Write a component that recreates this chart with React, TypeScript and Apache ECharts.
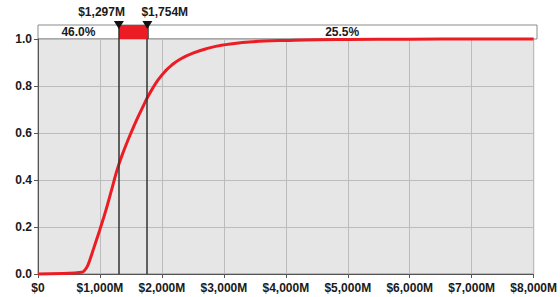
import React, { useEffect, useRef } from "react";
import * as echarts from "echarts";

// Cumulative curve (value in $M, cumulative probability)
const curveX = [0, 400, 700, 750, 800, 850, 900, 950, 1000, 1100, 1200, 1297, 1400, 1500, 1600, 1700, 1754, 1850, 1950, 2050, 2150, 2300, 2500, 2750, 3000, 3300, 3650, 4000, 4500, 5000, 6000, 7000, 8000];
const curveY = [0, 0.002, 0.007, 0.015, 0.035, 0.07, 0.11, 0.15, 0.19, 0.275, 0.37, 0.46, 0.535, 0.6, 0.66, 0.715, 0.745, 0.79, 0.83, 0.862, 0.887, 0.915, 0.94, 0.961, 0.975, 0.985, 0.991, 0.994, 0.997, 0.998, 0.9993, 0.9998, 1.0];

// Delimiters and band percentages
const delimiters = [1297, 1754];
const delimiterLabels = ["$1,297M", "$1,754M"];
const bandPercents = ["46.0%", "25.5%"];

const xMin = 0;
const xMax = 8000;
const xInterval = 1000;
const yMin = 0;
const yMax = 1;
const yInterval = 0.2;

const FONT = "'Liberation Sans', Arial, sans-serif";
const TXT = "#1a1a1a";

export default function App() {
  const ref = useRef<HTMLDivElement>(null);

  useEffect(() => {
    if (!ref.current) return;
    const chart = echarts.init(ref.current, undefined, { renderer: "svg" });

    const curveData = curveX.map((x, i) => [x, curveY[i]]);
    const boldText = {
      fontFamily: FONT,
      fontWeight: "bold",
      fontSize: 12,
      color: TXT,
    };
    const markerData = delimiters.map((d, i) => ({
      value: [d, 1],
      label: {
        show: true,
        position: "top",
        distance: 3,
        formatter: delimiterLabels[i],
        align: i === 0 ? "right" : "left",
        offset: [i === 0 ? 6 : -6, 0],
        ...boldText,
      },
    }));

    const option: any = {
      animation: false,
      backgroundColor: "#ffffff",
      textStyle: { fontFamily: FONT },
      grid: [
        {
          left: 38,
          top: 25,
          width: 499,
          height: 14,
          show: true,
          backgroundColor: "#ffffff",
          borderColor: "#8a8a8a",
          borderWidth: 1,
        },
        {
          left: 38,
          top: 39,
          width: 499,
          height: 235,
          show: true,
          backgroundColor: "#e6e6e6",
          borderColor: "#8a8a8a",
          borderWidth: 1,
        },
      ],
      xAxis: [
        { gridIndex: 0, type: "value", min: xMin, max: xMax, show: false },
        {
          gridIndex: 1,
          type: "value",
          min: xMin,
          max: xMax,
          interval: xInterval,
          axisLine: { show: true, lineStyle: { color: "#555", width: 1 } },
          axisTick: { show: true, length: 4, lineStyle: { color: "#555" } },
          splitLine: { show: true, lineStyle: { color: "#bcbcbc", width: 1 } },
          axisLabel: {
            margin: 8,
            ...boldText,
            formatter: (v: number) =>
              v === 0 ? "$0" : "$" + v.toLocaleString("en-US") + "M",
          },
        },
      ],
      yAxis: [
        { gridIndex: 0, type: "value", min: 0, max: 1, show: false },
        {
          gridIndex: 1,
          type: "value",
          min: yMin,
          max: yMax,
          interval: yInterval,
          axisLine: { show: true, lineStyle: { color: "#555", width: 1 } },
          axisTick: { show: true, length: 4, lineStyle: { color: "#555" } },
          splitLine: { show: true, lineStyle: { color: "#bcbcbc", width: 1 } },
          axisLabel: {
            margin: 6,
            ...boldText,
            formatter: (v: number) => v.toFixed(1),
          },
        },
      ],
      series: [
        {
          // band markers, percent labels, red delimited region
          type: "scatter",
          xAxisIndex: 0,
          yAxisIndex: 0,
          z: 5,
          symbol: "triangle",
          symbolRotate: 180,
          symbolSize: [10, 8],
          itemStyle: { color: "#111", opacity: 1 },
          clip: false,
          label: { show: true, position: "top", distance: 3, ...boldText },
          emphasis: { disabled: true },
          data: markerData,
          markArea: {
            silent: true,
            data: [
              [
                {
                  xAxis: xMin,
                  itemStyle: { color: "rgba(0,0,0,0)" },
                  label: { show: true, formatter: bandPercents[0] },
                },
                { xAxis: delimiters[0] },
              ],
              [
                {
                  xAxis: delimiters[0],
                  itemStyle: { color: "#ec1c24", opacity: 1 },
                  label: { show: false },
                },
                { xAxis: delimiters[1] },
              ],
              [
                {
                  xAxis: delimiters[1],
                  itemStyle: { color: "rgba(0,0,0,0)" },
                  label: { show: true, formatter: bandPercents[1] },
                },
                { xAxis: xMax },
              ],
            ],
            label: { position: "inside", ...boldText },
          },
          markLine: {
            silent: true,
            symbol: "none",
            label: { show: false },
            lineStyle: { color: "#333", width: 1.5, type: "solid", opacity: 1 },
            data: delimiters.map((d) => ({ xAxis: d })),
          },
        },
        {
          // delimiter lines across the plot
          type: "line",
          xAxisIndex: 1,
          yAxisIndex: 1,
          z: 1,
          data: [],
          markLine: {
            silent: true,
            symbol: "none",
            label: { show: false },
            lineStyle: { color: "#333", width: 1.5, type: "solid", opacity: 1 },
            data: delimiters.map((d) => ({ xAxis: d })),
          },
        },
        {
          type: "line",
          xAxisIndex: 1,
          yAxisIndex: 1,
          z: 3,
          data: curveData,
          showSymbol: false,
          smooth: 0.5,
          clip: false,
          lineStyle: { color: "#ec1c24", width: 3 },
        },
      ],
    };

    chart.setOption(option);
    return () => chart.dispose();
  }, []);

  return (
    <div
      ref={ref}
      style={{ position: "fixed", left: 0, top: 0, width: 560, height: 297 }}
    />
  );
}
